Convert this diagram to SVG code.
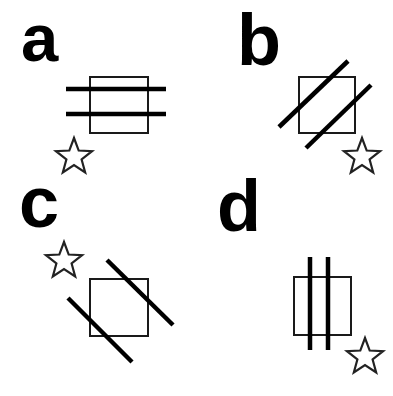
<svg xmlns="http://www.w3.org/2000/svg" width="393" height="396" viewBox="0 0 393 396">
<style>
.lbl{font-family:"Liberation Sans",Arial,sans-serif;font-weight:bold;font-size:72px;fill:#000}
.sq{fill:none;stroke:#1a1a1a;stroke-width:2}
.bar{stroke:#000;stroke-width:4.5;stroke-linecap:butt}
.star{fill:none;stroke:#222;stroke-width:2.2;stroke-linejoin:miter}
</style>
<defs>
<path id="star" class="star" d="M0,-19 L4.70,-6.47 L18.07,-5.87 L7.61,2.47 L11.17,15.37 L0,8 L-11.17,15.37 L-7.61,2.47 L-18.07,-5.87 L-4.70,-6.47 Z"/>
</defs>
<rect width="393" height="396" fill="#fff"/>
<g id="panel-a">
<text class="lbl" x="21" y="61" style="font-size:67px">a</text>
<rect class="sq" x="90" y="77" width="58" height="56"/>
<line class="bar" x1="66" y1="89" x2="166" y2="89"/>
<line class="bar" x1="66" y1="114" x2="166" y2="114"/>
<use href="#star" x="74" y="157"/>
</g>
<g id="panel-b">
<text class="lbl" x="237" y="65">b</text>
<rect class="sq" x="299" y="77" width="56" height="56"/>
<line class="bar" x1="279" y1="127" x2="348" y2="61"/>
<line class="bar" x1="306" y1="148" x2="371" y2="85"/>
<use href="#star" x="362" y="157"/>
</g>
<g id="panel-c">
<text class="lbl" x="19" y="227">c</text>
<rect class="sq" x="90" y="279" width="58" height="57"/>
<line class="bar" x1="107" y1="260" x2="173" y2="325"/>
<line class="bar" x1="68" y1="298" x2="132" y2="362"/>
<use href="#star" x="64" y="261"/>
</g>
<g id="panel-d">
<text class="lbl" x="217" y="231">d</text>
<rect class="sq" x="294" y="277" width="57" height="58"/>
<line class="bar" x1="310" y1="257" x2="310" y2="350"/>
<line class="bar" x1="328" y1="257" x2="328" y2="350"/>
<use href="#star" x="365" y="357"/>
</g>
</svg>
